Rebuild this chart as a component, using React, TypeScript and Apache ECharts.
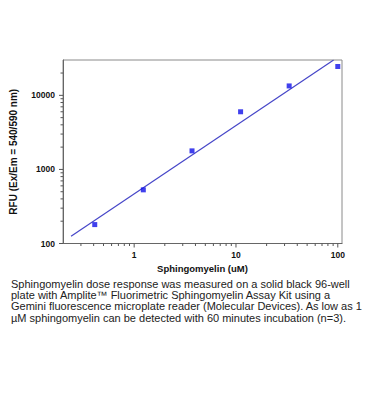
import React, { useEffect, useRef } from "react";
import * as echarts from "echarts";

const concentrations = [0.41, 1.23, 3.7, 11.1, 33.3, 100];
const rfu = [180, 530, 1780, 6000, 13400, 24500];
const fitX = [0.24, 91];
const fitY = [125, 30000];
const xMajorTicks = [1, 10, 100];
const xMinorTicks = [0.3, 0.4, 0.5, 0.6, 0.7, 0.8, 0.9, 2, 3, 4, 5, 6, 7, 8, 9, 20, 30, 40, 50, 60, 70, 80, 90];
const yMajorTicks = [100, 1000, 10000];
const yMinorTicks = [200, 300, 400, 500, 600, 700, 800, 900, 2000, 3000, 4000, 5000, 6000, 7000, 8000, 9000, 20000];
const captionLines = [
  "Sphingomyelin dose response was measured on a solid black 96-well",
  "plate with Amplite\u2122 Fluorimetric Sphingomyelin Assay Kit using a",
  "Gemini fluorescence microplate reader (Molecular Devices). As low as 1",
  "\u00b5M sphingomyelin can be detected with 60 minutes incubation (n=3).",
];

const X_MIN = 0.2;
const X_MAX = 110;
const Y_MIN = 100;
const Y_MAX = 30000;
const FONT = "Arial, 'Liberation Sans', sans-serif";

function decadeLabel(v: number) {
  const l = Math.log10(v);
  if (Math.abs(l - Math.round(l)) < 1e-6) return String(Math.round(v));
  return "";
}

export default function App() {
  const ref = useRef<HTMLDivElement>(null);
  useEffect(() => {
    document.body.style.margin = "0";
    const chart = echarts.init(ref.current!, null, { renderer: "svg" });
    const tickColor = "#555";
    const xTickData = [
      ...xMajorTicks.map((v) => [v, Y_MIN, 4]),
      ...xMinorTicks.map((v) => [v, Y_MIN, 2.5]),
    ];
    const yTickData = [
      ...yMajorTicks.map((v) => [X_MIN, v, 4]),
      ...yMinorTicks.map((v) => [X_MIN, v, 2.5]),
    ];
    chart.setOption({
      animation: false,
      grid: {
        left: 62,
        right: 25,
        top: 60,
        bottom: 174.5,
        show: true,
        borderColor: "#8a8a8a",
        borderWidth: 1,
      },
      xAxis: {
        type: "log",
        min: X_MIN,
        max: X_MAX,
        name: "Sphingomyelin (uM)",
        nameLocation: "middle",
        nameGap: 20,
        nameTextStyle: { fontFamily: FONT, fontWeight: "bold", fontSize: 9.5, color: "#111" },
        axisLine: { show: true, lineStyle: { color: "#666", width: 1 } },
        axisTick: { show: false },
        splitLine: { show: false },
        axisLabel: {
          formatter: decadeLabel,
          fontFamily: FONT,
          fontWeight: "bold",
          fontSize: 8.5,
          color: "#111",
          margin: 7,
          showMinLabel: false,
          showMaxLabel: false,
        },
      },
      yAxis: {
        type: "log",
        min: Y_MIN,
        max: Y_MAX,
        name: "RFU (Ex/Em = 540/590 nm)",
        nameLocation: "middle",
        nameGap: 45,
        nameRotate: 90,
        nameTextStyle: { fontFamily: FONT, fontWeight: "bold", fontSize: 10, color: "#111" },
        axisLine: { show: true, lineStyle: { color: "#666", width: 1 } },
        axisTick: { show: false },
        splitLine: { show: false },
        axisLabel: {
          formatter: decadeLabel,
          fontFamily: FONT,
          fontWeight: "bold",
          fontSize: 8.5,
          color: "#111",
          margin: 8,
          showMaxLabel: false,
        },
      },
      series: [
        {
          type: "line",
          data: fitX.map((x, i) => [x, fitY[i]]),
          showSymbol: false,
          silent: true,
          lineStyle: { color: "#4646c8", width: 1.2 },
          z: 2,
        },
        {
          type: "scatter",
          data: concentrations.map((x, i) => [x, rfu[i]]),
          symbol: "rect",
          symbolSize: 5,
          silent: true,
          itemStyle: { color: "#1010e8" },
          z: 3,
        },
        {
          type: "custom",
          silent: true,
          data: xTickData,
          renderItem: (params: any, api: any) => {
            const p = api.coord([api.value(0), api.value(1)]);
            const len = api.value(2);
            return {
              type: "line",
              shape: { x1: p[0], y1: p[1], x2: p[0], y2: p[1] + len },
              style: { stroke: tickColor, lineWidth: 1 },
            };
          },
        },
        {
          type: "custom",
          silent: true,
          data: yTickData,
          renderItem: (params: any, api: any) => {
            const p = api.coord([api.value(0), api.value(1)]);
            const len = api.value(2);
            return {
              type: "line",
              shape: { x1: p[0] - len, y1: p[1], x2: p[0], y2: p[1] },
              style: { stroke: tickColor, lineWidth: 1 },
            };
          },
        },
      ],
      graphic: [
        {
          type: "text",
          left: 11,
          top: 278,
          style: {
            text: captionLines.join("\n"),
            fontFamily: FONT,
            fontSize: 11,
            lineHeight: 11.3,
            fill: "#222",
          },
        },
      ],
    });
    return () => chart.dispose();
  }, []);
  return <div ref={ref} style={{ width: 367, height: 418 }} />;
}
